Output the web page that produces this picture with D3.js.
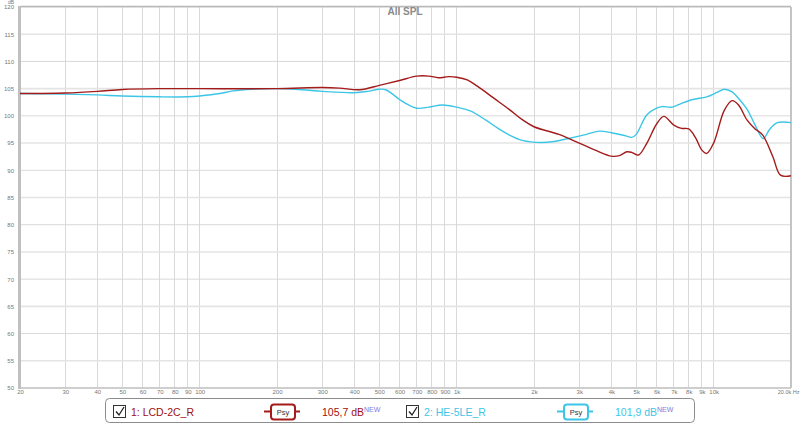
<!DOCTYPE html>
<html><head><meta charset="utf-8">
<script src="https://cdn.jsdelivr.net/npm/d3@7"></script>
<style>
html,body{margin:0;padding:0;background:#fff;}
svg{display:block;font-family:"Liberation Sans",Arial,sans-serif;}
</style></head>
<body>
<svg id="chart" width="800" height="425"></svg>
<script>
// ---- data ----
const xTickValues = [20,30,40,50,60,70,80,90,100,200,300,400,500,600,700,800,900,1000,2000,3000,4000,5000,6000,7000,8000,9000,10000,20000];
const xTickLabels = ["20","30","40","50","60","70","80","90","100","200","300","400","500","600","700","800","900","1k","2k","3k","4k","5k","6k","7k","8k","9k","10k","20.0k Hz"];
const yTickValues = [50,55,60,65,70,75,80,85,90,95,100,105,110,115,120];

const redFreq = [20,30,40,50,70,100,200,300,350,420,500,600,700,780,850,930,1000,1100,1200,1400,1600,1800,2000,2500,3000,3500,4000,4300,4600,4800,5100,5500,6000,6400,7000,7500,8000,8500,9000,9400,10000,11000,11800,12500,13500,14500,15500,17000,18200,20000];
const redDb   = [104.1,104.2,104.5,104.85,105.0,105.0,105.0,105.2,105.1,104.8,105.6,106.5,107.3,107.3,107.0,107.2,107.1,106.6,105.5,103.2,101.2,99.3,98.0,96.6,95.0,93.6,92.6,92.7,93.4,93.3,92.8,95.0,98.5,99.9,98.3,97.7,97.6,96.0,93.7,93.1,95.0,101.0,102.8,102.0,99.2,97.6,96.5,92.5,89.1,89.0];

const cyanFreq = [20,30,40,50,70,90,100,120,135,160,200,250,300,400,450,500,530,600,650,700,780,880,1000,1130,1300,1450,1600,1800,2130,2400,2700,3200,3600,4000,4500,4800,5000,5500,6000,6300,6900,7500,8300,9400,10300,11000,11800,12500,13500,14500,15600,16500,17700,20000];
const cyanDb   = [104.1,104.0,103.85,103.65,103.5,103.5,103.65,104.1,104.6,104.9,105.0,104.8,104.5,104.25,104.5,104.9,104.8,103.0,102.0,101.4,101.6,102.0,101.6,100.9,99.2,97.7,96.5,95.5,95.1,95.3,95.8,96.6,97.2,96.9,96.4,96.05,96.6,100.2,101.4,101.7,101.6,102.3,103.0,103.5,104.3,104.9,104.4,103.2,101.2,98.3,95.8,97.5,98.75,98.75];

const seriesNames = ["1: LCD-2C_R","2: HE-5LE_R"];
const seriesLevels = ["105,7 dB","101,9 dB"];
const seriesColors = ["#a31b1b","#3cc6e6"];

// ---- layout ----
const svg = d3.select("#chart");
const L = 20, R = 791, T = 7, B = 388;
const x = d3.scaleLog().domain([20,20000]).range([L,R]);
const y = d3.scaleLinear().domain([50,120]).range([B,T]);

// grid
const grid = svg.append("g");
grid.selectAll("line.v").data(xTickValues).join("line")
  .attr("x1",d=>x(d)).attr("x2",d=>x(d)).attr("y1",T).attr("y2",B)
  .attr("stroke","#d9d9d9").attr("stroke-width",1).attr("shape-rendering","crispEdges");
grid.selectAll("line.h").data(yTickValues).join("line")
  .attr("x1",L).attr("x2",R).attr("y1",d=>y(d)).attr("y2",d=>y(d))
  .attr("stroke",d=>d%10===5?"#e4e4e4":"#d9d9d9").attr("stroke-width",d=>d%10===5?1.6:1);

// borders
svg.append("line").attr("x1",L).attr("x2",R).attr("y1",T-0.5).attr("y2",T-0.5).attr("stroke","#b8b8b8").attr("stroke-width",1.5);
svg.append("line").attr("x1",R).attr("x2",R).attr("y1",T).attr("y2",B).attr("stroke","#c4c4c4").attr("stroke-width",2);
svg.append("line").attr("x1",L).attr("x2",R).attr("y1",B).attr("y2",B).attr("stroke","#c4c4c4").attr("stroke-width",1.5);
svg.append("line").attr("x1",L-0.5).attr("x2",L-0.5).attr("y1",T-1).attr("y2",B+1).attr("stroke","#c0c0c0").attr("stroke-width",3);

// axes (text only)
const yAxis = d3.axisLeft(y).tickValues(yTickValues).tickSize(0).tickPadding(0).tickFormat(d3.format("d"));
const gy = svg.append("g").attr("transform",`translate(${L-6},0)`).call(yAxis);
gy.select(".domain").remove();
gy.selectAll("text").attr("font-size",6).attr("fill","#777").attr("font-family","Liberation Sans, Arial, sans-serif");

const xAxis = d3.axisBottom(x).tickValues(xTickValues).tickSize(0).tickPadding(0).tickFormat((d,i)=>xTickLabels[i]);
const gx = svg.append("g").attr("transform",`translate(0,${B+2})`).call(xAxis);
gx.select(".domain").remove();
gx.selectAll("text").attr("font-size",6).attr("fill","#777").attr("font-family","Liberation Sans, Arial, sans-serif");
gx.selectAll("text").filter((d)=>d===20000).attr("text-anchor","end").attr("x",8).attr("font-size",5.5);

svg.append("text").attr("x",L-6).attr("y",4).attr("text-anchor","end").attr("font-size",5).attr("fill","#777").text("dB");

// title
svg.append("text").attr("x",405).attr("y",15).attr("text-anchor","middle")
  .attr("font-size",10).attr("font-weight","bold").attr("fill","#8a8a8a").text("All SPL");

// curves
const line = d3.line().x(d=>x(d[0])).y(d=>y(d[1])).curve(d3.curveCatmullRom.alpha(0.5));
const cyanData = cyanFreq.map((f,i)=>[f,cyanDb[i]]);
const redData = redFreq.map((f,i)=>[f,redDb[i]]);
svg.append("path").attr("d",line(cyanData)).attr("fill","none").attr("stroke",seriesColors[1]).attr("stroke-width",1.4);
svg.append("path").attr("d",line(redData)).attr("fill","none").attr("stroke",seriesColors[0]).attr("stroke-width",1.4);

// legend
const lg = svg.append("g");
lg.append("rect").attr("x",105.5).attr("y",398.5).attr("width",589).attr("height",24).attr("rx",4)
  .attr("fill","#fff").attr("stroke","#8c8c8c").attr("stroke-width",1);
const offs = [0, 293];
seriesNames.forEach((name,i)=>{
  const o = offs[i];
  const c = seriesColors[i];
  // checkbox
  lg.append("rect").attr("x",113.5+o).attr("y",405.5).attr("width",12).attr("height",12)
    .attr("fill","#fff").attr("stroke","#333").attr("stroke-width",1);
  lg.append("path").attr("d",`M${116+o},${411.5} L${119+o},${415} L${124+o},${407}`)
    .attr("fill","none").attr("stroke","#222").attr("stroke-width",1.3);
  lg.append("text").attr("x",131+o).attr("y",416).attr("font-size",10.5).attr("fill",i===0?"#a01010":c).text(name);
  // psy button
  const bx = 267+o;
  lg.append("line").attr("x1",bx-3).attr("x2",bx+33).attr("y1",411.5).attr("y2",411.5).attr("stroke",c).attr("stroke-width",2);
  lg.append("rect").attr("x",bx+4).attr("y",404.5).attr("width",24).attr("height",15).attr("rx",3)
    .attr("fill","#fff").attr("stroke",c).attr("stroke-width",2);
  lg.append("text").attr("x",bx+16).attr("y",415).attr("text-anchor","middle").attr("font-size",7.5).attr("fill","#333").text("Psy");
  // level
  const t = lg.append("text").attr("x",322+o).attr("y",416).attr("font-size",10.5).attr("fill",i===0?"#a01010":c);
  t.append("tspan").text(seriesLevels[i]);
  t.append("tspan").attr("dy",-4).attr("font-size",7).attr("fill","#7b7be0").text("NEW");
});
</script>
</body></html>
